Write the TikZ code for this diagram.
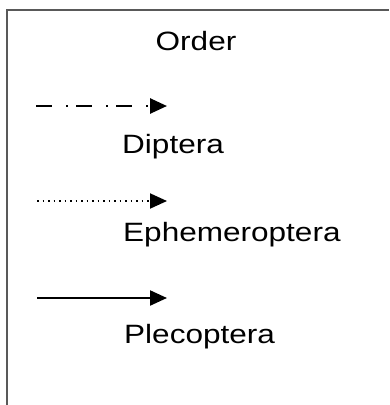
\documentclass[tikz,border=0pt]{standalone}
\usepackage{fontspec}
\usepackage{graphicx}
\setmainfont{Liberation Sans}
\usetikzlibrary{arrows.meta}

\tikzset{
    legtext/.style={anchor=base west,inner sep=0pt,font=\fontsize{26.5}{30}\selectfont},
    legarrow/.style={line width=2.2pt,-{Triangle[length=17pt,width=15pt]}}
}
\newcommand{\wide}[1]{\scalebox{1.19}[1]{#1}}

\begin{document}
\begin{tikzpicture}[x=1pt,y=-1pt]
        \useasboundingbox (0,0) rectangle (389,405);
        % frame
        \draw[black!65,line width=1.5pt] (7,405) coordinate (fb)--(7,10) coordinate (fc)--(389,10) coordinate (fr);
        \node[legtext,anchor=base] (order) at (196,50) {\wide{Order}};
        % dash-dot
        \coordinate (d1) at (36,106);
        \coordinate (d2) at (167,106);
        \draw[legarrow,line width=2.6pt,dash pattern=on 16pt off 14pt on 2pt off 8pt] (d1)--(d2);
        \node[legtext] (dipt) at (122,153) {\wide{Diptera}};
        % dotted
        \coordinate (e1) at (37,201);
        \coordinate (e2) at (167,201);
        \draw[legarrow,line width=1.9pt,dash pattern=on 1.9pt off 3.6pt] (e1)--(e2);
        \node[legtext] (ephe) at (123,241) {\wide{Ephemeroptera}};
        % solid
        \coordinate (p1) at (37,298);
        \coordinate (p2) at (167,298);
        \draw[legarrow] (p1)--(p2);
        \node[legtext] (plec) at (124,343) {\wide{Plecoptera}};
    \end{tikzpicture}
\end{document}
